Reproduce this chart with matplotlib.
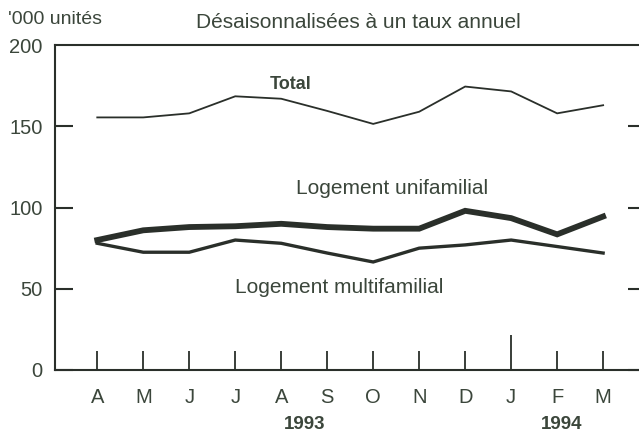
import matplotlib
matplotlib.use("Agg")
import matplotlib.pyplot as plt

# monthly housing starts, seasonally adjusted annual rate ('000 units)
months = ["A", "M", "J", "J", "A", "S", "O", "N", "D", "J", "F", "M"]
total = [155.5, 155.5, 158, 168.5, 167, 159.5, 151.5, 159, 174.5, 171.5, 158, 163]
single = [80, 86, 88, 88.5, 90, 88, 87, 87, 98, 93.5, 83.5, 94.5]
multi = [78, 72.5, 72.5, 80, 78, 72, 66.5, 75, 77, 80, 76, 72]
years = ["1993", "1994"]

ink = "#2a2f2a"
txt = "#3b463b"

plt.rcParams["font.family"] = ["Liberation Sans", "DejaVu Sans"]
plt.rcParams["font.size"] = 15

fig = plt.figure(figsize=(6.39, 4.34), dpi=100)
ax = fig.add_axes([0.086, 0.1475, 0.914, 0.7485])

x = list(range(len(months)))
ax.plot(x, total, color=ink, lw=1.3, solid_joinstyle="miter")
ax.plot(x, single, color=ink, lw=4.2, solid_joinstyle="miter")
ax.plot(x, multi, color=ink, lw=2.4, solid_joinstyle="miter")

ax.set_xlim(-0.92, 11.78)
ax.set_ylim(0, 200)

ax.set_yticks([0, 50, 100, 150, 200])
ax.tick_params(axis="y", direction="in", length=13, width=1.5, pad=9,
               colors=ink, labelcolor=txt, labelsize=14.5, right=True)
for t in ax.yaxis.get_major_ticks():
    t.tick2line.set_markersize(8)
ax.yaxis.get_major_ticks()[-1].tick1line.set_visible(False)
ax.yaxis.get_major_ticks()[-1].tick2line.set_visible(False)

ax.set_xticks(x)
ax.set_xticklabels(months)
ax.tick_params(axis="x", direction="in", length=14, width=1.3, pad=13,
               colors=ink, labelcolor=txt, labelsize=14.5)
ax.xaxis.get_major_ticks()[9].tick1line.set_markersize(25)

for side in ["left", "bottom", "top"]:
    ax.spines[side].set_linewidth(1.5)
    ax.spines[side].set_color(ink)
ax.spines["right"].set_visible(False)

ax.text(4.2, 175.5, "Total", ha="center", va="center", fontsize=13,
        fontweight="bold", color=txt)
ax.text(6.4, 112, "Logement unifamilial", ha="center", va="center", color=txt)
ax.text(5.25, 50.5, "Logement multifamilial", ha="center", va="center", color=txt)

ax.text(4.5, -33.5, years[0], ha="center", va="center", fontsize=13.5,
        fontweight="bold", color=txt)
ax.text(10.1, -33.5, years[1], ha="center", va="center", fontsize=13.5,
        fontweight="bold", color=txt)

fig.text(8 / 639, 1 - 20 / 434, "'000 unités", ha="left", va="center",
         fontsize=14, color=txt)
fig.text(358 / 639, 1 - 22 / 434, "Désaisonnalisées à un taux annuel",
         ha="center", va="center", color=txt)

fig.savefig("out.png", dpi=100)
